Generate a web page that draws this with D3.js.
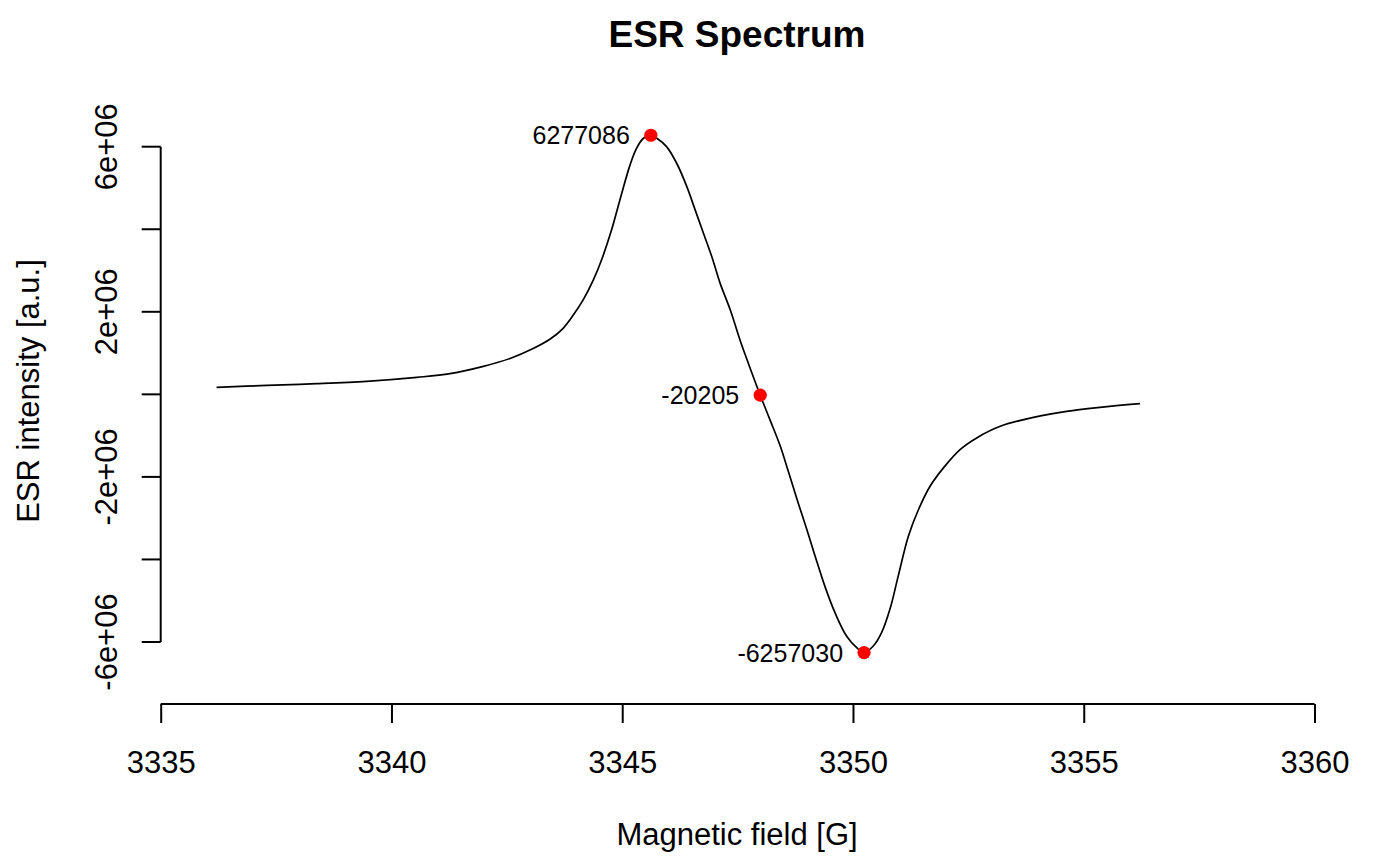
<!DOCTYPE html>
<html>
<head>
<meta charset="utf-8">
<script src="https://cdn.jsdelivr.net/npm/d3@7"></script>
<style>
  body { margin: 0; background: #fff; }
  svg text { font-family: "Liberation Sans", Arial, sans-serif; fill: #000; }
</style>
</head>
<body>
<script>
// spectrum (field in G, intensity in a.u.)
var fieldG = [3336.21, 3337.30, 3338.38, 3339.46, 3340.55, 3341.27, 3341.99, 3342.57, 3343.07, 3343.44,
  3343.72, 3343.94, 3344.16, 3344.37, 3344.56, 3344.77, 3344.95, 3345.17, 3345.31, 3345.46,
  3345.62, 3345.75, 3345.96, 3346.18, 3346.40, 3346.58, 3346.76, 3346.94, 3347.12, 3347.34,
  3347.55, 3347.73, 3347.99, 3348.20, 3348.42, 3348.60, 3348.78, 3349.00, 3349.18, 3349.39,
  3349.61, 3349.86, 3350.08, 3350.24, 3350.44, 3350.62, 3350.80, 3350.98, 3351.20, 3351.42,
  3351.67, 3351.96, 3352.32, 3352.68, 3353.19, 3353.91, 3354.63, 3355.35, 3356.22];
var intensity = [0.169e6, 0.218e6, 0.259e6, 0.315e6, 0.411e6, 0.501e6, 0.677e6, 0.870e6, 1.110e6, 1.340e6,
  1.600e6, 1.920e6, 2.300e6, 2.760e6, 3.280e6, 3.985e6, 4.711e6, 5.560e6, 5.960e6, 6.204e6,
  6277086, 6.204e6, 6.001e6, 5.599e6, 5.033e6, 4.469e6, 3.905e6, 3.339e6, 2.695e6, 2.049e6,
  1.323e6, 0.760e6, -20205, -0.612e6, -1.240e6, -1.870e6, -2.520e6, -3.274e6, -3.920e6, -4.646e6,
  -5.289e6, -5.855e6, -6.136e6, -6257030, -6.097e6, -5.773e6, -5.209e6, -4.404e6, -3.436e6, -2.790e6,
  -2.226e6, -1.781e6, -1.338e6, -1.055e6, -0.774e6, -0.556e6, -0.411e6, -0.315e6, -0.225e6];

// marked points
var markField = [3345.62, 3347.99, 3350.24];
var markValue = [6277086, -20205, -6257030];
var markLabels = ["6277086", "-20205", "-6257030"];

var xTicks = [3335, 3340, 3345, 3350, 3355, 3360];
var yTicks = [-6e6, -4e6, -2e6, 0, 2e6, 4e6, 6e6];
var yTickLabels = ["-6e+06", "", "-2e+06", "", "2e+06", "", "6e+06"];

var width = 1400, height = 866;
var svg = d3.select("body").append("svg")
  .attr("width", width).attr("height", height);

var x = d3.scaleLinear().domain([3335, 3360]).range([160.7, 1314.5]);
var y = d3.scaleLinear().domain([-6e6, 6e6]).range([642, 146.7]);
var axisY = 704, axisX = 160.7;

// title
svg.append("text")
  .attr("x", 737).attr("y", 47)
  .attr("text-anchor", "middle")
  .style("font-size", "37px").style("font-weight", "bold")
  .text("ESR Spectrum");

// x axis
var gx = svg.append("g").attr("transform", "translate(0," + axisY + ")")
  .call(d3.axisBottom(x).tickValues(xTicks).tickSize(19).tickPadding(28).tickFormat(d3.format("d")));
gx.select(".domain").remove();
gx.append("line")
  .attr("x1", x(xTicks[0])).attr("x2", x(xTicks[xTicks.length - 1]))
  .attr("stroke", "#000").attr("stroke-width", 2);
gx.selectAll(".tick line").attr("stroke", "#000").attr("stroke-width", 2);
gx.selectAll(".tick text")
  .style("font-size", "31px").style("font-family", "Liberation Sans, Arial, sans-serif");

svg.append("text")
  .attr("x", 737).attr("y", 845)
  .attr("text-anchor", "middle")
  .style("font-size", "31px")
  .text("Magnetic field [G]");

// y axis
var gy = svg.append("g");
gy.append("line")
  .attr("x1", axisX).attr("x2", axisX)
  .attr("y1", y(yTicks[0])).attr("y2", y(yTicks[yTicks.length - 1]))
  .attr("stroke", "#000").attr("stroke-width", 2);
gy.selectAll(".ytick").data(yTicks).enter().append("line")
  .attr("x1", axisX - 19).attr("x2", axisX)
  .attr("y1", function(d) { return y(d); })
  .attr("y2", function(d) { return y(d); })
  .attr("stroke", "#000").attr("stroke-width", 2);
gy.selectAll(".ylab").data(yTicks).enter().append("text")
  .attr("transform", function(d) { return "translate(117," + y(d) + ") rotate(-90)"; })
  .attr("text-anchor", "middle")
  .style("font-size", "31px")
  .text(function(d, i) { return yTickLabels[i]; });

svg.append("text")
  .attr("transform", "translate(39,391) rotate(-90)")
  .attr("text-anchor", "middle")
  .style("font-size", "31px")
  .text("ESR intensity [a.u.]");

// spectrum line
var line = d3.line()
  .x(function(d, i) { return x(fieldG[i]); })
  .y(function(d) { return y(d); })
  .curve(d3.curveCatmullRom.alpha(0.5));
svg.append("path")
  .datum(intensity)
  .attr("d", line)
  .attr("fill", "none")
  .attr("stroke", "#000")
  .attr("stroke-width", 1.7);

// marked points + labels
svg.selectAll(".mark").data(markValue).enter().append("circle")
  .attr("cx", function(d, i) { return x(markField[i]); })
  .attr("cy", function(d) { return y(d); })
  .attr("r", 6.6)
  .attr("fill", "#ff0000");
svg.selectAll(".marklab").data(markValue).enter().append("text")
  .attr("x", function(d, i) { return x(markField[i]) - 21; })
  .attr("y", function(d) { return y(d) + 9; })
  .attr("text-anchor", "end")
  .style("font-size", "25px")
  .text(function(d, i) { return markLabels[i]; });
</script>
</body>
</html>
